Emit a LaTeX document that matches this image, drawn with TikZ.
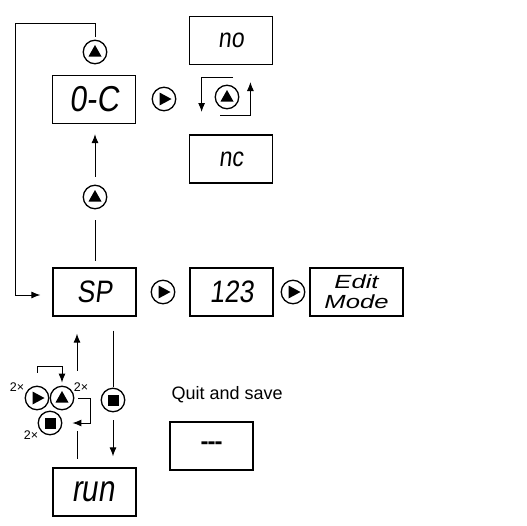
\documentclass[tikz,border=0pt]{standalone}
\usepackage{fontspec}
\setmainfont{Liberation Sans}
\newfontfamily\segfont[FakeSlant=0.12,FakeStretch=0.85]{Liberation Sans}
\newfontfamily\editfont[FakeStretch=1.35]{Liberation Sans}
\newfontfamily\runfont[FakeStretch=0.8]{Liberation Sans}
\usetikzlibrary{arrows.meta,calc}
\begin{document}
\begin{tikzpicture}[x=1pt,y=-1pt,line width=1pt,
  box/.style={draw,line width=1.2pt,minimum width=83pt,minimum height=48pt,inner sep=0pt,align=center},
  btn/.style={circle,draw,line width=1.3pt,minimum size=23.5pt,inner sep=0pt},
  upbtn/.style={btn,path picture={\fill ([shift={(-6.5pt,-4.5pt)}]path picture bounding box.center) -- ++(13pt,0pt) -- ++(-6.5pt,11.5pt) -- cycle;}},
  rightbtn/.style={btn,path picture={\fill ([shift={(-4.5pt,-6.5pt)}]path picture bounding box.center) -- ++(0pt,13pt) -- ++(12pt,-6.5pt) -- cycle;}},
  stopbtn/.style={btn,path picture={\fill ([shift={(-5.5pt,-5.5pt)}]path picture bounding box.center) rectangle ++(11pt,11pt);}},
  arr/.style={-{Latex[length=9pt,width=7pt]}},
  seg/.style={font=\segfont\fontsize{#1}{#1}\selectfont},
  twox/.style={font=\fontsize{12.5}{12.5}\selectfont,inner sep=0pt}]
\useasboundingbox (0,0) rectangle (527,525);

% boxes
\node[box,seg=36] (oc) at (94,99.5) {0-C};
\node[box,seg=27] (no) at (231,40.5) {no};
\node[box,seg=27] (nc) at (231,159) {nc};
\node[box,seg=31] (sp) at (94.5,292) {SP};
\node[box,seg=31] (n123) at (231.5,292) {123};
\node[box,minimum width=93pt,font=\editfont\itshape\fontsize{19}{20}\selectfont] (edit) at (356.5,292) {Edit\\Mode};
\node[box,font=\runfont\itshape\fontsize{37}{37}\selectfont] (run) at (94.5,492) {run};
\node[box,font=\bfseries\fontsize{24}{24}\selectfont] (quitbox) at (211.5,446) {-\kern-1pt-\kern-1pt-};
\node[anchor=west,inner sep=0pt,font=\fontsize{18}{18}\selectfont] (quit) at (171,395) {Quit and save};

% buttons
\node[upbtn] (uptop) at (95,52) {};
\node[rightbtn] (rOC) at (164,99) {};
\node[upbtn] (uploop) at (227,97) {};
\node[upbtn] (upmid) at (95,197) {};
\node[rightbtn] (rSP) at (163,292) {};
\node[rightbtn] (r123) at (293,292) {};
\node[stopbtn] (stopdn) at (113,400) {};
\node[rightbtn] (cR) at (37,398) {};
\node[upbtn] (cU) at (62,398) {};
\node[stopbtn] (cS) at (50,423) {};

% 2x labels
\node[twox] (l1) at (17,387) {2×};
\node[twox] (l2) at (81,387) {2×};
\node[twox] (l3) at (31,435) {2×};

% connectors
\draw[arr] ($(upmid.north)+(0,-8)$) -- ($(upmid.north |- oc.south)+(0,10)$);
\draw ($(upmid.south)+(0,11)$) -- ($(upmid.south |- sp.north)+(0,-6)$);
\draw[arr] ($(uptop.north)+(0,-3)$) |- (15,23) |- ($(sp.west)+(-12,3)$);

\draw[arr] ($(uploop.north)+(6,-7)$) -| ($(uploop.west)+(-13,15)$);
\draw[arr] ($(uploop.south)+(-7,6)$) -| ($(uploop.east)+(11,-15)$);

\draw ($(stopdn.north |- sp.south)+(0,14)$) -- ($(stopdn.north)+(0,-1)$);
\draw[arr] ($(stopdn.south)+(0,8)$) -- ($(stopdn.south |- run.north)+(0,-11)$);

\draw[arr] ($(sp.south)+(-17.5,54)$) -- ($(sp.south)+(-17.5,17)$);
\draw ($(run.north)+(-17.5,-36)$) -- ($(run.north)+(-17.5,-8)$);

\draw[arr] ($(cR.north)+(0,-13)$) |- ($(cU.north)+(0,-19)$) -- ($(cU.north)+(0,-3)$);
\draw[arr] ($(cU.east)+(4,0)$) -- ++(12,0) |- ($(cS.east)+(10,0)$);
\end{tikzpicture}
\end{document}
